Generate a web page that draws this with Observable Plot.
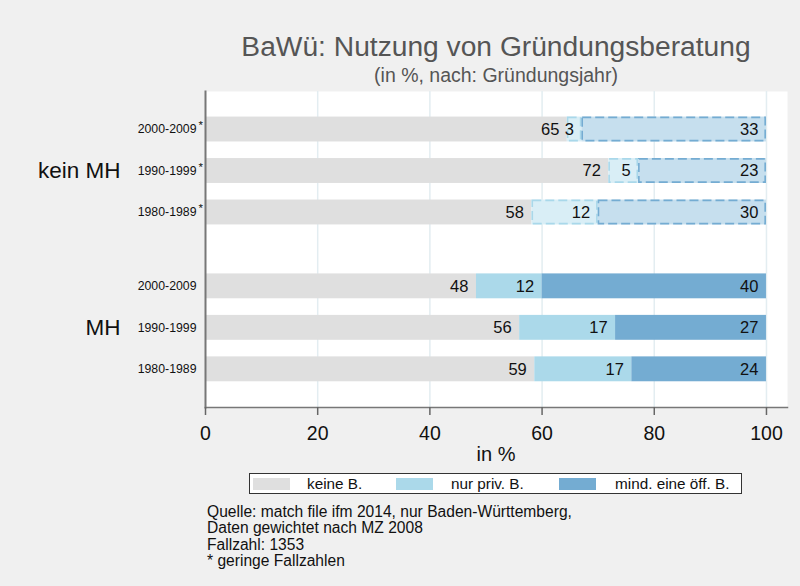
<!DOCTYPE html>
<html>
<head>
<meta charset="utf-8">
<script src="https://cdn.jsdelivr.net/npm/d3@7"></script>
<script src="https://cdn.jsdelivr.net/npm/@observablehq/plot@0.6"></script>
<style>
  html, body { margin: 0; padding: 0; }
  body { width: 800px; height: 586px; background: #f0f0f0; position: relative; overflow: hidden;
         font-family: "Liberation Sans", Arial, Helvetica, sans-serif; }
  #chart { position: absolute; left: 0; top: 0; }
  .abs { position: absolute; white-space: nowrap; }
  #title { left: 205px; width: 582px; top: 30px; text-align: center; font-size: 28.2px; line-height: 32px; color: #555; }
  #subtitle { left: 205px; width: 582px; top: 64px; text-align: center; font-size: 19.5px; line-height: 22px; color: #555; }
  #xlabel { left: 205px; width: 582px; top: 444px; text-align: center; font-size: 20px; line-height: 20px; color: #111; }
  #legend { left: 249px; top: 473px; width: 491px; height: 19px; border: 1px solid #333; background: #fff; }
  .sw { position: absolute; top: 4px; width: 37px; height: 12px; }
  .lt { position: absolute; top: 1px; font-size: 15.3px; line-height: 17px; color: #111; }
  #caption { left: 207px; top: 504px; font-size: 15.6px; line-height: 16.3px; color: #111; }
</style>
</head>
<body>
<div id="chart"></div>
<div id="title" class="abs">BaWü: Nutzung von Gründungsberatung</div>
<div id="subtitle" class="abs">(in %, nach: Gründungsjahr)</div>
<div id="xlabel" class="abs">in %</div>
<div id="legend" class="abs"></div>
<div id="caption" class="abs">Quelle: match file ifm 2014, nur Baden-Württemberg,<br>Daten gewichtet nach MZ 2008<br>Fallzahl: 1353<br>* geringe Fallzahlen</div>
<script>
// ---- data ----
const groups = ["kein MH", "MH"];
const years = ["2000-2009", "1990-1999", "1980-1989"];
const categories = ["keine B.", "nur priv. B.", "mind. eine öff. B."];
// order: kein MH 2000, 1990, 1980, MH 2000, 1990, 1980
const keineB  = [64.5, 71.9, 58.2, 48.3, 56.0, 58.7];
const nurPriv = [2.6, 5.3, 11.8, 11.7, 17.1, 17.3];
const oeff    = [32.9, 22.8, 30.0, 40.0, 26.9, 24.0];
const starred = [true, true, true, false, false, false];
const xTicks = [0, 20, 40, 60, 80, 100];

// ---- styling ----
const solidColors = {"keine B.": "#dfdfdf", "nur priv. B.": "#abd9ea", "mind. eine öff. B.": "#74acd2"};
const paleColors  = {"keine B.": "#dfdfdf", "nur priv. B.": "#d9eef6", "mind. eine öff. B.": "#c6dfee"};
const paleStroke  = {"keine B.": "none",    "nur priv. B.": "#a9d8ea", "mind. eine öff. B.": "#74acd2"};
const groupGap = 0.78;   // extra space between groups (in row units)
const half = 0.3;        // half bar thickness (in row units)

// ---- build table ----
const rows = [];
groups.forEach((g, gi) => years.forEach((yr, yi) => {
  const i = gi * years.length + yi;
  rows.push({group: g, year: yr, pos: gi * (years.length + groupGap) + yi, star: starred[i],
             vals: [keineB[i], nurPriv[i], oeff[i]]});
}));
const segs = [];
rows.forEach(r => {
  let acc = 0;
  r.vals.forEach((v, k) => {
    segs.push({group: r.group, year: r.year, pos: r.pos, cat: categories[k], x1: acc, x2: acc + v, v});
    acc += v;
  });
});
const groupLabels = groups.map((g, gi) => ({group: g, pos: gi * (years.length + groupGap) + 1}));

const segPale = segs.filter(s => s.group === "kein MH");
const segSolid = segs.filter(s => s.group === "MH");
const segPaleDashed = segPale.filter(s => s.cat !== "keine B.");

const plot = Plot.plot({
  width: 800,
  height: 470,
  marginTop: 91,
  marginBottom: 63,
  marginLeft: 205,
  marginRight: 13,
  style: {background: "transparent", fontFamily: "Liberation Sans, Arial, sans-serif", color: "#111", overflow: "visible"},
  x: {domain: [0, 103.75], axis: null},
  y: {domain: [-0.916, 6.70], reverse: true, axis: null},
  marks: [
    Plot.frame({fill: "#fff", stroke: null}),
    Plot.ruleX(xTicks.slice(1), {stroke: "#e3edf1", strokeWidth: 1.5}),
    Plot.rect(segSolid, {x1: "x1", x2: "x2", y1: d => d.pos - half, y2: d => d.pos + half,
                         fill: d => solidColors[d.cat]}),
    Plot.rect(segPale, {x1: "x1", x2: "x2", y1: d => d.pos - half, y2: d => d.pos + half,
                        fill: d => paleColors[d.cat]}),
    Plot.rect(segPaleDashed, {x1: "x1", x2: "x2", y1: d => d.pos - half, y2: d => d.pos + half,
                              fill: "none", stroke: d => paleStroke[d.cat], strokeWidth: 1.6,
                              strokeDasharray: "9,4", inset: 0.8}),
    Plot.text(segs, {x: "x2", y: "pos", text: d => String(Math.round(d.v)), textAnchor: "end",
                     dx: -8, fontSize: 16.5, fill: "#111"}),
    // y tick labels
    Plot.text(rows, {y: "pos", frameAnchor: "left", dx: -9, textAnchor: "end", text: "year", fontSize: 12.3, fill: "#111"}),
    Plot.text(rows.filter(r => r.star), {y: "pos", frameAnchor: "left", dx: -2.5, dy: -4, textAnchor: "end", text: () => "*", fontSize: 11.5, fill: "#111"}),
    Plot.text(groupLabels, {y: "pos", frameAnchor: "left", dx: -85, textAnchor: "end", text: "group", fontSize: 22.5, fill: "#111"}),
    // axes
    Plot.frame({anchor: "left", stroke: "#777", strokeWidth: 2}),
    Plot.frame({anchor: "bottom", stroke: "#777", strokeWidth: 1.5}),
    Plot.axisX({ticks: xTicks, tickSize: 8, tickPadding: 11, fontSize: 19.5, label: null, stroke: "#666", strokeWidth: 1.5})
  ]
});
document.getElementById("chart").appendChild(plot);

// legend
const legend = document.getElementById("legend");
const swLeft = [3, 146, 309];
const txtLeft = [57, 201, 365];
categories.forEach((c, k) => {
  const sw = document.createElement("div");
  sw.className = "sw"; sw.style.left = swLeft[k] + "px"; sw.style.background = solidColors[c];
  legend.appendChild(sw);
  const t = document.createElement("div");
  t.className = "lt"; t.style.left = txtLeft[k] + "px"; t.textContent = c;
  legend.appendChild(t);
});
</script>
</body>
</html>
